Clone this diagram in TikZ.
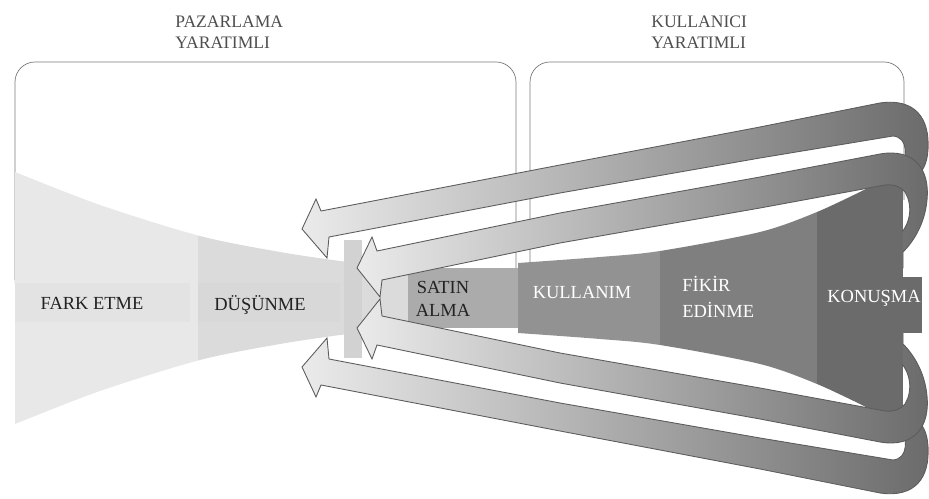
\documentclass[tikz,border=0pt]{standalone}
\usepackage{fontspec}
\setmainfont{Liberation Serif}

\definecolor{farkgray}{HTML}{E8E8E8}
\definecolor{farkband}{HTML}{E3E3E3}
\definecolor{dusungray}{HTML}{DBDBDB}
\definecolor{dusunband}{HTML}{D8D8D8}
\definecolor{bargray}{HTML}{D2D2D2}
\definecolor{satingray}{HTML}{ABABAB}
\definecolor{kullgray}{HTML}{929292}
\definecolor{fikirgray}{HTML}{7F7F7F}
\definecolor{konugray}{HTML}{6B6B6B}
\definecolor{boxline}{HTML}{7A7A7A}
\definecolor{arrowline}{HTML}{5C5C5C}
\definecolor{darktext}{HTML}{222222}

\begin{document}
\begin{tikzpicture}[x=0.02cm,y=-0.02cm,
  lbl/.style={font=\fontsize{10.5}{13}\selectfont, inner sep=0pt, text=darktext},
  title/.style={font=\fontsize{10}{12}\selectfont, inner sep=0pt, align=left, text=darktext!80},
  arrowshade/.style={left color=black!8, middle color=black!40, right color=konugray, draw=arrowline, line width=0.5pt}]

\useasboundingbox (0,0) rectangle (929,499);

% frames
\draw[boxline, rounded corners=0.4cm] (21,306) -- (15,298) -- (15,62) -- (516,62) -- (516,290);
\draw[boxline, rounded corners=0.4cm] (530,290) -- (530,62) -- (904,62) -- (904,200);

\node[title, anchor=west] (pazar) at (175,32) {PAZARLAMA\\YARATIMLI};
\node[title, anchor=west] (kullanici) at (651,32) {KULLANICI\\YARATIMLI};

% left funnel
\begin{scope}
  \clip plot[smooth] coordinates {(15,172) (100,205) (200,236) (280,252) (340,261) (370,264)} -- (408,268) -- (408,328)
        -- plot[smooth] coordinates {(370,332) (340,335) (280,344) (200,360) (100,391) (15,424)} -- cycle;
  \fill[farkgray] (0,150) rectangle (198,450);
  \fill[dusungray] (198,150) rectangle (410,450);
  \fill[farkband] (15,283) rectangle (190,322);
  \fill[dusunband] (198,283) rectangle (340,322);
\end{scope}
\fill[bargray] (344,240) rectangle (362,358);

% right funnel
\begin{scope}
  \clip plot[smooth] coordinates {(518,263) (600,257) (660,251) (760,232) (817,212) (868,188)} -- (903,170) -- (903,426)
        -- plot[smooth] coordinates {(868,408) (817,384) (760,364) (660,345) (600,339) (518,333)} -- cycle;
  \fill[kullgray] (518,150) rectangle (660,450);
  \fill[fikirgray] (660,150) rectangle (817,450);
  \fill[konugray] (817,150) rectangle (903,450);
\end{scope}
\fill[satingray] (408,268) rectangle (518,328);

% feedback arrows, upper pair and its mirror image
\foreach \m in {1,-1}{
  \begin{scope}[shift={(0,{298*(1-\m)})}, yscale=\m]
    \shadedraw[arrowshade] (302,229) -- (316,199) -- (321,211) -- (560,165) -- (760,127) -- (880,103)
      .. controls (915,98) and (930,118) .. (928,150) .. controls (927,165) and (922,172) .. (915,178) -- (898,172)
      .. controls (909,158) and (908,137) .. (893,136) -- (760,158) -- (560,193) -- (329,237) -- (327,258) -- cycle;
    \shadedraw[arrowshade] (357,268) -- (372,237) -- (377,251) -- (560,213) -- (760,177) -- (880,154)
      .. controls (915,148) and (930,170) .. (927,200) .. controls (925,222) and (915,240) .. (903,252) -- (903,268)
      -- (885,268) -- (885,238) -- (898,236) .. controls (911,225) and (913,205) .. (905,192)
      .. controls (900,186) and (893,184) .. (885,185) -- (760,208) -- (560,243) -- (382,280) -- (380,297) -- cycle;
  \end{scope}
}
\fill[konugray] (870,232) rectangle (903,364);
\fill[konugray] (817,277) rectangle (922,333);

% stage labels
\node[lbl] (fark) at (92,303) {FARK ETME};
\node[lbl] (dusun) at (260,305) {DÜŞÜNME};
\node[lbl, align=center] (satin) at (443,299) {SATIN\\ALMA};
\node[lbl, text=white] (kullanim) at (582,293) {KULLANIM};
\node[lbl, text=white, align=left, anchor=west] (fikir) at (682,297) {FİKİR\\[2pt]EDİNME};
\node[lbl, text=white] (konusma) at (874,298) {KONUŞMA};

\end{tikzpicture}
\end{document}
